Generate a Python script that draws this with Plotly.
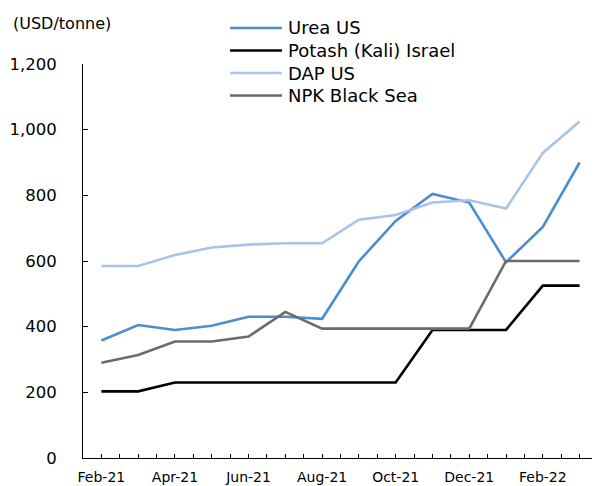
import plotly.graph_objects as go

months = ["Feb-21", "Mar-21", "Apr-21", "May-21", "Jun-21", "Jul-21", "Aug-21",
          "Sep-21", "Oct-21", "Nov-21", "Dec-21", "Jan-22", "Feb-22", "Mar-22"]
urea_us = [358, 405, 390, 403, 430, 430, 424, 599, 722, 804, 778, 596, 704, 900]
potash_israel = [203, 203, 230, 230, 230, 230, 230, 230, 230, 390, 390, 390, 525, 525]
dap_us = [585, 585, 618, 641, 650, 654, 654, 726, 740, 778, 785, 760, 929, 1025]
npk_black_sea = [290, 314, 355, 355, 370, 445, 394, 394, 394, 394, 394, 600, 600, 600]
y_ticks = [0, 200, 400, 600, 800, 1000, 1200]
unit_label = "(USD/tonne)"

series = [
    ("Urea US", urea_us, "#4a8ed1"),
    ("Potash (Kali) Israel", potash_israel, "#000000"),
    ("DAP US", dap_us, "#a9c3e8"),
    ("NPK Black Sea", npk_black_sea, "#6b6b6b"),
]

x = list(range(len(months)))
font = "DejaVu Sans"

# plot area in page pixels (page body has an 8px default margin)
PX0, PX1, PY0, PY1 = 83, 598, 64, 458


def px(X):
    return (X - PX0) / (PX1 - PX0)


def py(Y):
    return (PY1 - Y) / (PY1 - PY0)


fig = go.Figure()
shapes = []
annotations = []
legend_rows = [28, 50.5, 73, 95.5]
for (name, vals, col), ry in zip(series, legend_rows):
    fig.add_trace(go.Scatter(x=x, y=vals, mode="lines", name=name,
                             line=dict(color=col, width=2.6),
                             showlegend=False))
    shapes.append(dict(type="line", xref="paper", yref="paper",
                       x0=px(230), x1=px(282), y0=py(ry), y1=py(ry),
                       line=dict(color=col, width=2.6)))
    annotations.append(dict(text=name, xref="paper", yref="paper",
                            x=px(286), y=py(ry), xanchor="left",
                            yanchor="middle", showarrow=False,
                            font=dict(size=18, family=font, color="#000")))

annotations.append(dict(text=unit_label, xref="paper", yref="paper",
                        x=px(11), y=py(24), xanchor="left", yanchor="middle",
                        showarrow=False,
                        font=dict(size=16, family=font, color="#000")))

tickvals = [i * 0.5 for i in range(-1, 2 * len(months) + 1)]
ticktext = []
for v in tickvals:
    if v == int(v) and 0 <= int(v) < len(months) and int(v) % 2 == 0:
        ticktext.append(months[int(v)])
    else:
        ticktext.append("")

fig.update_layout(
    width=592, height=478,
    margin=dict(l=75, r=2, t=56, b=28, autoexpand=False),
    paper_bgcolor="white", plot_bgcolor="white",
    font=dict(family=font, size=16, color="#000000"),
    showlegend=False,
    xaxis=dict(range=[-0.5, len(months) - 0.5], tickmode="array",
               tickvals=tickvals, ticktext=ticktext, ticks="inside",
               ticklen=4, tickcolor="#000", showgrid=False, zeroline=False,
               showline=True, linecolor="#000", linewidth=1, automargin=False,
               ticklabelstandoff=6,
               tickfont=dict(size=14, family=font)),
    yaxis=dict(range=[0, 1200], tickvals=y_ticks,
               tickformat=",d", ticks="inside", ticklen=5, tickcolor="#000",
               showgrid=False, zeroline=False, showline=True, automargin=False,
               linecolor="#000", linewidth=1, ticklabelstandoff=22,
               tickfont=dict(size=16.5, family=font)),
    shapes=shapes,
    annotations=annotations,
)

fig.write_html("out.html")
